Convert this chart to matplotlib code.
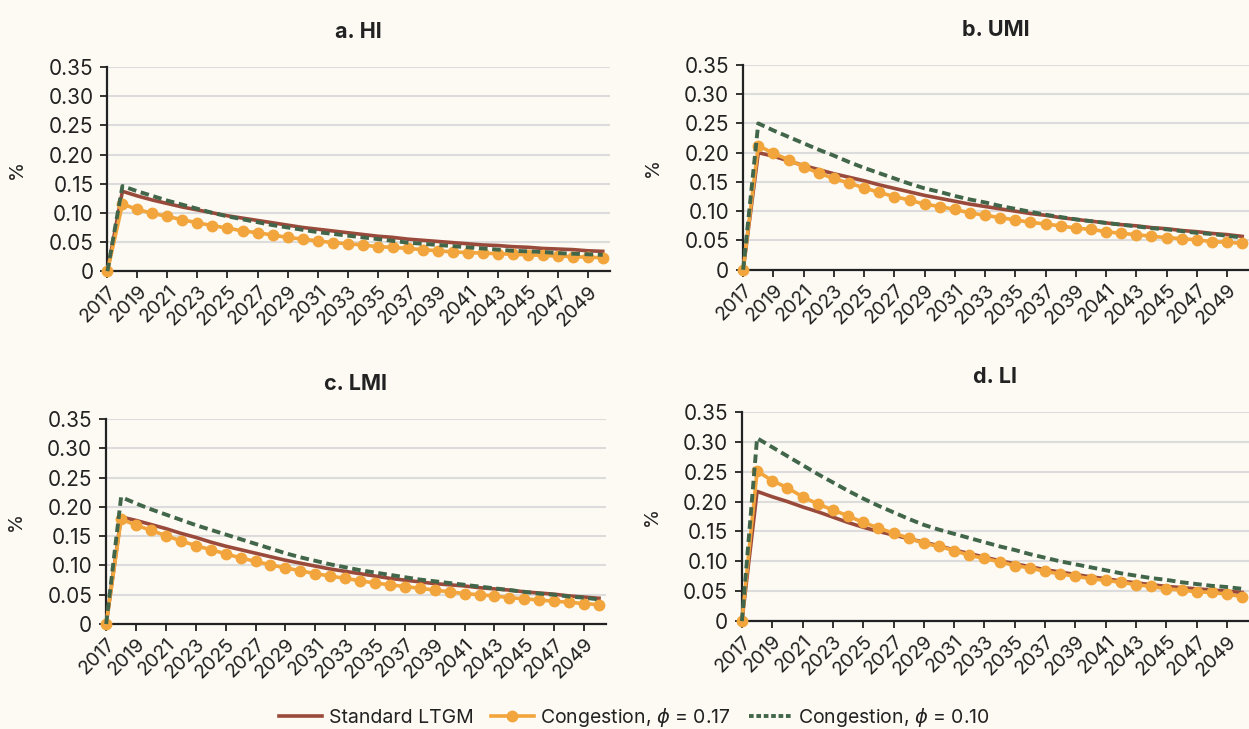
import numpy as np
import matplotlib
matplotlib.use("Agg")
import matplotlib.pyplot as plt
from matplotlib.lines import Line2D

plt.rcParams['font.family'] = ['Inter', 'DejaVu Sans']

years = list(range(2017, 2051))

# a. HI
hi_std = [0, .137, .129, .122, .116, .110, .105, .100, .095, .091, .087, .083, .079, .075, .072, .069, .066,
          .063, .060, .058, .055, .053, .051, .049, .047, .045, .044, .042, .041, .039, .038, .037, .035, .034]
hi_c17 = [0, .115, .106, .099, .094, .088, .083, .078, .074, .069, .066, .062, .058, .055, .052, .049, .047,
          .045, .042, .041, .039, .037, .035, .033, .032, .031, .030, .029, .028, .027, .026, .025, .024, .023]
hi_c10 = [0, .146, .137, .129, .121, .114, .107, .100, .094, .089, .084, .079, .075, .071, .067, .064, .061,
          .058, .055, .052, .049, .047, .045, .043, .041, .039, .037, .035, .034, .033, .031, .030, .029, .028]

# b. UMI
umi_std = [0, .200, .194, .186, .178, .171, .164, .158, .152, .145, .139, .133, .127, .122, .117, .112, .108,
           .104, .100, .096, .093, .089, .086, .083, .080, .077, .075, .072, .070, .067, .065, .062, .060, .057]
umi_c17 = [0, .212, .199, .188, .176, .165, .156, .148, .140, .132, .125, .119, .112, .108, .103, .097, .093,
           .089, .085, .081, .078, .075, .071, .069, .065, .062, .060, .057, .055, .053, .051, .048, .047, .045]
umi_c10 = [0, .250, .238, .227, .216, .205, .195, .184, .174, .165, .156, .147, .139, .133, .126, .120, .115,
           .109, .104, .099, .094, .090, .086, .083, .080, .077, .074, .071, .069, .066, .063, .061, .058, .055]

# c. LMI
lmi_std = [0, .183, .177, .170, .163, .155, .148, .140, .133, .127, .121, .115, .109, .104, .099, .094, .090,
           .086, .082, .078, .075, .072, .069, .067, .065, .062, .060, .058, .055, .053, .051, .048, .046, .044]
lmi_c17 = [0, .179, .169, .160, .151, .142, .134, .127, .120, .113, .107, .101, .096, .091, .086, .082, .078,
           .074, .070, .067, .064, .061, .058, .055, .052, .050, .048, .045, .043, .041, .039, .037, .035, .033]
lmi_c10 = [0, .217, .206, .196, .187, .178, .169, .161, .153, .145, .137, .129, .121, .114, .108, .102, .097,
           .092, .088, .084, .080, .076, .073, .070, .067, .064, .061, .058, .055, .052, .050, .047, .045, .042]

# d. LI
li_std = [0, .217, .208, .200, .191, .183, .174, .165, .157, .150, .144, .138, .132, .126, .119, .113, .107,
          .101, .096, .091, .086, .082, .078, .074, .071, .067, .064, .061, .058, .056, .054, .052, .050, .048]
li_c17 = [0, .251, .235, .223, .208, .196, .186, .176, .165, .156, .147, .139, .130, .125, .118, .110, .105,
          .099, .093, .089, .083, .079, .075, .071, .068, .065, .061, .058, .054, .052, .049, .048, .045, .041]
li_c10 = [0, .306, .291, .276, .261, .246, .232, .218, .205, .193, .182, .171, .161, .153, .146, .139, .132,
          .125, .119, .112, .106, .100, .095, .090, .085, .080, .076, .072, .069, .065, .062, .059, .057, .054]

titles = ['a. HI', 'b. UMI', 'c. LMI', 'd. LI']
series = [(hi_std, hi_c17, hi_c10), (umi_std, umi_c17, umi_c10),
          (lmi_std, lmi_c17, lmi_c10), (li_std, li_c17, li_c10)]
yticks = [0, 0.05, 0.10, 0.15, 0.20, 0.25, 0.30, 0.35]
ytick_labels = ['0', '0.05', '0.10', '0.15', '0.20', '0.25', '0.30', '0.35']
legend_labels = ['Standard LTGM', r'Congestion, $\phi$ = 0.17', r'Congestion, $\phi$ = 0.10']

bg = '#fdfaf3'
c_std = '#9a4a3b'
c_c17 = '#f2a53c'
c_c10 = '#41664a'
dark = '#222222'

fig = plt.figure(figsize=(12.49, 7.29), dpi=100)
fig.patch.set_facecolor(bg)

# left, bottom, width, height (figure fractions)
boxes = [
    [0.086, 0.628, 0.402, 0.280],
    [0.595, 0.630, 0.405, 0.281],
    [0.085, 0.144, 0.400, 0.281],
    [0.594, 0.148, 0.406, 0.287],
]

for box, title, (s_std, s_c17, s_c10) in zip(boxes, titles, series):
    ax = fig.add_axes(box)
    ax.set_facecolor(bg)
    ax.plot(years, s_std, color=c_std, lw=2.6, zorder=3, clip_on=False)
    ax.plot(years, s_c17, color=c_c17, lw=2.6, marker='o', ms=7.5, zorder=4, clip_on=False)
    ax.plot(years, s_c10, color=c_c10, lw=2.8, ls=(0, (2.2, 1.2)), zorder=5, clip_on=False)
    ax.set_ylim(0, 0.35)
    ax.set_xlim(2017, 2050.45)
    ax.set_yticks(yticks)
    ax.set_yticklabels(ytick_labels, fontsize=15, color=dark)
    ax.set_xticks(list(range(2017, 2050, 2)))
    ax.set_xticklabels([str(y) for y in range(2017, 2050, 2)], rotation=45, ha='right',
                       rotation_mode='anchor', fontsize=14, color=dark)
    ax.tick_params(axis='y', length=5, width=1.3, color=dark, pad=5)
    ax.tick_params(axis='x', length=5, width=1.3, color=dark, pad=3)
    ax.grid(axis='y', color='#dcdcdc', lw=1.5, zorder=0)
    ax.set_axisbelow(True)
    for side in ['top', 'right']:
        ax.spines[side].set_visible(False)
    for side in ['left', 'bottom']:
        ax.spines[side].set_color(dark)
        ax.spines[side].set_linewidth(1.6)
    ax.set_title(title, fontsize=15.5, fontweight='bold', color=dark, pad=21)
    ax.set_ylabel('%', fontsize=14, color=dark, labelpad=16)

handles = [
    Line2D([], [], color=c_std, lw=2.6),
    Line2D([], [], color=c_c17, lw=2.6, marker='o', ms=7.5),
    Line2D([], [], color=c_c10, lw=2.8, ls=(0, (1.2, 0.7))),
]
fig.legend(handles, legend_labels, loc='center', bbox_to_anchor=(0.508, 0.016), ncol=3,
           frameon=False, fontsize=14, handlelength=2.2, columnspacing=0.9, handletextpad=0.35,
           labelcolor=dark)

fig.savefig('out.png', dpi=100, facecolor=bg)
